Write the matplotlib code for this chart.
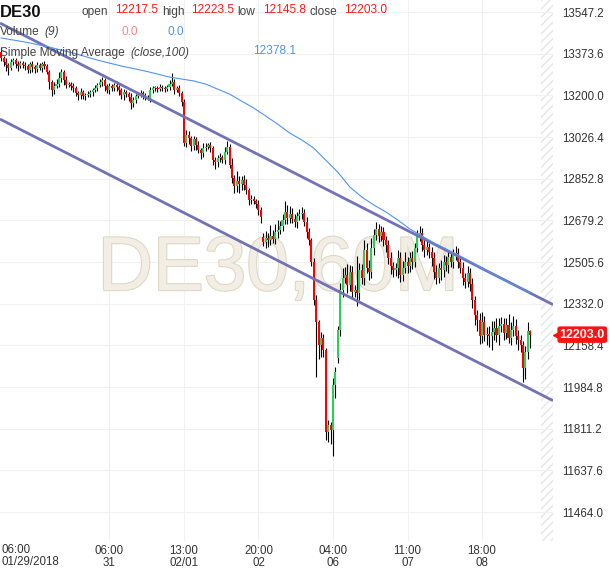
import numpy as np
import matplotlib
matplotlib.use("Agg")
import matplotlib.pyplot as plt
import matplotlib.patheffects as pe
import matplotlib.transforms as mtransforms

plt.rcParams['font.family'] = ['Liberation Sans', 'DejaVu Sans']
plt.rcParams['hatch.linewidth'] = 1.0

# hourly closes DE30, 01/29 06:00 -> 02/08 evening
closes = [
    13355, 13339, 13326, 13314, 13339, 13347, 13330, 13322, 13335, 13326,
    13322, 13305, 13330, 13318, 13310, 13326, 13314, 13330, 13322, 13297,
    13255, 13222, 13239, 13247, 13272, 13297, 13264, 13243, 13247, 13239,
    13230, 13210, 13201, 13214, 13197, 13201, 13205, 13214, 13222, 13230,
    13243, 13255, 13264, 13239, 13222, 13239, 13230, 13243, 13235, 13222,
    13201, 13214, 13205, 13193, 13168, 13180, 13197, 13205, 13210, 13201,
    13193, 13189, 13222, 13230, 13230, 13226, 13235, 13230, 13226, 13235,
    13247, 13255, 13222, 13230, 13210, 13172, 13001, 13035, 13022, 12989,
    13018, 12993, 12972, 12960, 12980, 12985, 12993, 12980, 12930, 12922,
    12939, 12943, 12930, 12964, 12985, 12910, 12855, 12822, 12843, 12830,
    12847, 12826, 12805, 12764, 12768, 12760, 12747, 12722, 12693, 12589,
    12606, 12597, 12614, 12601, 12631, 12639, 12656, 12681, 12714, 12689,
    12706, 12685, 12672, 12697, 12706, 12710, 12672, 12631, 12597, 12506,
    12347, 12256, 12160, 12189, 12139, 11797, 11826, 11806, 11993, 12047,
    12222, 12389, 12439, 12451, 12410, 12464, 12380, 12389, 12376, 12472,
    12439, 12556, 12481, 12464, 12564, 12618, 12643, 12614, 12631, 12597,
    12576, 12522, 12489, 12472, 12481, 12522, 12451, 12481, 12506, 12489,
    12522, 12506, 12564, 12614, 12626, 12576, 12556, 12568, 12547, 12522,
    12464, 12439, 12481, 12472, 12506, 12493, 12526, 12506, 12535, 12543,
    12506, 12481, 12439, 12422, 12460, 12414, 12347, 12285, 12264, 12197,
    12256, 12201, 12206, 12197, 12214, 12231, 12201, 12239, 12247, 12210,
    12243, 12189, 12222, 12239, 12197, 12181, 12160, 12064, 12131, 12217.5,
    12203.0,
]
first_open = 13380
gap_opens = {109: 12610, 140: 12106}

upper_wick = [
    20, 10, 15, 8, 12, 10, 8, 15, 10, 8,
    12, 10, 8, 15, 10, 12, 8, 10, 12, 8,
    10, 8, 15, 20, 25, 12, 10, 15, 8, 10,
    12, 10, 8, 15, 10, 8, 12, 10, 8, 12,
    10, 15, 12, 8, 10, 12, 8, 10, 15, 8,
    10, 12, 8, 10, 15, 12, 10, 8, 12, 10,
    8, 10, 12, 8, 10, 8, 12, 10, 8, 10,
    15, 40, 12, 10, 15, 10, 12, 20, 15, 10,
    12, 10, 15, 10, 20, 15, 10, 12, 10, 15,
    12, 15, 10, 20, 25, 12, 30, 15, 40, 20,
    15, 20, 25, 10, 15, 12, 10, 15, 12, 15,
    30, 20, 45, 25, 35, 40, 20, 25, 45, 30,
    35, 25, 20, 15, 20, 25, 15, 20, 15, 10,
    15, 20, 10, 25, 15, 10, 20, 15, 30, 20,
    15, 30, 40, 35, 45, 30, 25, 20, 140, 30,
    25, 40, 30, 35, 40, 25, 30, 20, 25, 20,
    15, 20, 25, 15, 20, 35, 25, 30, 40, 20,
    25, 30, 20, 25, 30, 20, 25, 30, 15, 20,
    25, 30, 20, 35, 30, 25, 30, 20, 25, 30,
    20, 15, 25, 20, 30, 20, 25, 15, 20, 30,
    40, 25, 30, 35, 45, 30, 40, 35, 30, 25,
    30, 45, 35, 40, 30, 25, 20, 15, 25, 40,
    6.0,
]
lower_wick = [
    10, 15, 25, 30, 10, 12, 15, 20, 10, 12,
    15, 12, 10, 20, 15, 12, 10, 15, 12, 10,
    30, 25, 15, 10, 12, 15, 20, 12, 10, 15,
    15, 12, 20, 15, 12, 15, 10, 12, 15, 10,
    12, 10, 15, 20, 12, 15, 10, 12, 15, 20,
    15, 20, 12, 15, 25, 15, 12, 10, 12, 15,
    12, 10, 15, 12, 10, 12, 8, 10, 12, 10,
    12, 10, 15, 10, 12, 15, 12, 15, 25, 20,
    15, 20, 12, 25, 15, 12, 10, 15, 20, 30,
    20, 15, 12, 15, 10, 12, 20, 30, 25, 35,
    25, 20, 15, 20, 15, 12, 15, 20, 25, 15,
    25, 30, 20, 15, 20, 25, 15, 20, 15, 25,
    20, 15, 20, 25, 15, 20, 15, 25, 20, 15,
    20, 230, 60, 50, 30, 35, 40, 60, 110, 54,
    20, 25, 30, 20, 35, 25, 30, 20, 55, 30,
    25, 30, 20, 35, 25, 30, 20, 25, 20, 25,
    30, 25, 35, 30, 25, 40, 30, 25, 20, 30,
    25, 30, 20, 15, 20, 25, 30, 20, 25, 35,
    30, 25, 20, 40, 30, 25, 35, 20, 25, 20,
    25, 20, 30, 25, 20, 30, 35, 40, 45, 35,
    30, 25, 40, 45, 60, 35, 30, 40, 25, 30,
    25, 20, 30, 25, 35, 40, 30, 60, 45, 30,
    57.2,
]

# SMA(close,100)
sma_bars = [0, 10, 20, 30, 40, 50, 60, 70, 80, 85, 90, 95, 100, 105, 110, 115,
            120, 125, 130, 135, 140, 145, 150, 155, 160, 165, 170, 180, 190,
            200, 210, 220]
sma_vals = [13439, 13422, 13401, 13376, 13347, 13322, 13301, 13276, 13260, 13247,
            13226, 13205, 13176, 13147, 13114, 13080, 13043, 13014, 12980, 12930,
            12880, 12818, 12776, 12743, 12714, 12680, 12643, 12585, 12535, 12481,
            12426, 12378.1]

# trend channel (start / end prices)
channel_x = [-0.5, 229.5]
channel_upper = [13501, 12328]
channel_lower = [13101, 11928]

time_ticks = [45, 76, 107, 138, 169, 200]
time_labels = ["06:00\n31", "13:00\n02/01", "20:00\n02", "04:00\n06", "11:00\n07", "18:00\n08"]
price_ticks = [11464.0, 11637.6, 11811.2, 11984.8, 12158.4, 12332.0, 12505.6,
               12679.2, 12852.8, 13026.4, 13200.0, 13373.6, 13547.2]

closes = np.array(closes, dtype=float)
n = len(closes)
idx = np.arange(n)
opens = np.concatenate([[first_open], closes[:-1]])
for k, v in gap_opens.items():
    opens[k] = v
highs = np.maximum(opens, closes) + np.array(upper_wick)
lows = np.minimum(opens, closes) - np.array(lower_wick)

W, H = 610, 568
fig = plt.figure(figsize=(W / 100, H / 100), dpi=100)
ax = fig.add_axes([0, 27 / H, 553 / W, 541 / H])
ax.set_xlim(-0.5, 229.5)
ax.set_ylim(11343.2, 13597.2)

for s in ax.spines.values():
    s.set_visible(False)
ax.set_xticks(time_ticks)
ax.set_xticklabels(time_labels, fontsize=8.3, color='#333333', linespacing=0.95)
ax.set_yticks(price_ticks)
ax.set_yticklabels([f"{p:.1f}" for p in price_ticks], fontsize=8.3, color='#333333')
ax.yaxis.tick_right()
ax.tick_params(axis='both', length=0)
ax.tick_params(axis='y', pad=6.5)
ax.tick_params(axis='x', pad=3)
ax.grid(True, color='#f1f1f1', lw=0.8, zorder=0)
ax.set_axisbelow(True)

# first time label at left edge
fig.text(1 / W, 1 - 541 / H - 3 / H, "06:00\n01/29/2018", ha='left', va='top',
         fontsize=8.3, color='#333333', linespacing=0.95)

# future (hatched) area
ax.axvspan(224.5, 229.5, facecolor='white', edgecolor='#e6e6e6', hatch='////', lw=0, zorder=0.5)

# watermark
ax.text(0.503, 0.5, "DE30,60M", transform=ax.transAxes, ha='center', va='center',
        fontsize=55, color='#f2eee5', zorder=0.8,
        path_effects=[pe.withStroke(linewidth=1.6, foreground='#e0d8c6')])

# candles
up = closes >= opens
ax.vlines(idx, lows, highs, color='black', lw=0.8, zorder=2)
body = np.abs(closes - opens)
body = np.where(body < 3, 3, body)
ax.bar(idx, body, bottom=np.minimum(opens, closes), width=0.85,
       color=np.where(up, '#2ecc5e', '#ff0000'), lw=0, zorder=3)

# channel and SMA
ax.plot(channel_x, channel_upper, color='#7272b6', lw=2.0, zorder=4, solid_capstyle='butt')
ax.plot(channel_x, channel_lower, color='#7272b6', lw=2.0, zorder=4, solid_capstyle='butt')
ax.plot(sma_bars, sma_vals, color='#4f94f5', lw=0.8, zorder=4.5)

# last price tag
tr = mtransforms.blended_transform_factory(ax.transAxes, ax.transData)
ax.text(1.012, closes[-1], f"{closes[-1]:.1f}", transform=tr, ha='left', va='center',
        color='white', fontsize=9, weight='bold', zorder=10, clip_on=False,
        bbox=dict(boxstyle='round,pad=0.18,rounding_size=0.2', fc='#ff1111', ec='none'))
ax.plot([1.006], [closes[-1]], marker='<', ms=5, color='#ff1111', transform=tr,
        clip_on=False, zorder=10)

# header texts
def ftext(x, y, s, **kw):
    fig.text(x / W, 1 - y / H, s, va='baseline', **kw)

lab = dict(fontsize=8.6, color='#444444')
val = dict(fontsize=8.6, color='#ff1a1a')
ftext(0, 17, "DE30", fontsize=12, weight='bold', color='#111111')
ftext(82, 15, "open", **lab)
ftext(115, 13, "12217.5", **val)
ftext(162, 15, "high", **lab)
ftext(191, 13, "12223.5", **val)
ftext(237, 15, "low", **lab)
ftext(263, 13, "12145.8", **val)
ftext(309, 15, "close", **lab)
ftext(344, 13, "12203.0", **val)

ftext(0, 35, "Volume", **lab)
ftext(44, 35, "(9)", style='italic', **lab)
ftext(122, 35, "0.0", fontsize=8.6, color='#f08a8a')
ftext(167, 35, "0.0", fontsize=8.6, color='#4f94f5')

ftext(0, 56, "Simple Moving Average", **lab)
ftext(130, 56, "(close,100)", style='italic', **lab)
ftext(253, 54, "12378.1", fontsize=8.6, color='#4f94f5')

fig.savefig("out.png", dpi=100)
